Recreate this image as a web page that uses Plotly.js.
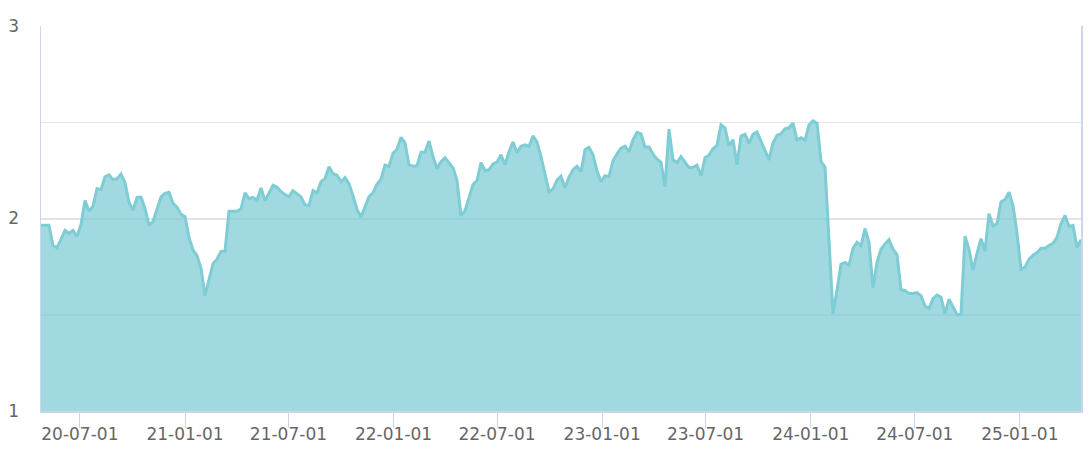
<!DOCTYPE html>
<html>
<head>
<meta charset="utf-8">
<script src="https://cdn.plot.ly/plotly-3.0.1.min.js"></script>
<style>
html,body{margin:0;padding:0;background:#fff;}
#chart{width:1089px;height:451px;}
</style>
</head>
<body>
<div id="chart"></div>
<script>
const dates = [
'2020-04-24','2020-05-01','2020-05-08','2020-05-15','2020-05-22','2020-05-29','2020-06-05','2020-06-12','2020-06-19','2020-06-26',
'2020-07-03','2020-07-10','2020-07-17','2020-07-24','2020-07-31','2020-08-07','2020-08-14','2020-08-21','2020-08-28',
'2020-09-04','2020-09-11','2020-09-18','2020-09-25','2020-10-02','2020-10-09','2020-10-16','2020-10-23','2020-10-30',
'2020-11-06','2020-11-13','2020-11-20','2020-11-27','2020-12-04','2020-12-11','2020-12-18','2020-12-25',
'2021-01-01','2021-01-08','2021-01-15','2021-01-22','2021-01-29','2021-02-05','2021-02-12','2021-02-19','2021-02-26',
'2021-03-05','2021-03-12','2021-03-19','2021-03-26','2021-04-02','2021-04-09','2021-04-16','2021-04-23','2021-04-30',
'2021-05-07','2021-05-14','2021-05-21','2021-05-28','2021-06-04','2021-06-11','2021-06-18','2021-06-25',
'2021-07-02','2021-07-09','2021-07-16','2021-07-23','2021-07-30','2021-08-06','2021-08-13','2021-08-20','2021-08-27',
'2021-09-03','2021-09-10','2021-09-17','2021-09-24','2021-10-01','2021-10-08','2021-10-15','2021-10-22','2021-10-29',
'2021-11-05','2021-11-12','2021-11-19','2021-11-26','2021-12-03','2021-12-10','2021-12-17','2021-12-24','2021-12-31',
'2022-01-07','2022-01-14','2022-01-21','2022-01-28','2022-02-04','2022-02-11','2022-02-18','2022-02-25',
'2022-03-04','2022-03-11','2022-03-18','2022-03-25','2022-04-01','2022-04-08','2022-04-15','2022-04-22','2022-04-29',
'2022-05-06','2022-05-13','2022-05-20','2022-05-27','2022-06-03','2022-06-10','2022-06-17','2022-06-24',
'2022-07-01','2022-07-08','2022-07-15','2022-07-22','2022-07-29','2022-08-05','2022-08-12','2022-08-19','2022-08-26',
'2022-09-02','2022-09-09','2022-09-16','2022-09-23','2022-09-30','2022-10-07','2022-10-14','2022-10-21','2022-10-28',
'2022-11-04','2022-11-11','2022-11-18','2022-11-25','2022-12-02','2022-12-09','2022-12-16','2022-12-23','2022-12-30',
'2023-01-06','2023-01-13','2023-01-20','2023-01-27','2023-02-03','2023-02-10','2023-02-17','2023-02-24',
'2023-03-03','2023-03-10','2023-03-17','2023-03-24','2023-03-31','2023-04-07','2023-04-14','2023-04-21','2023-04-28',
'2023-05-05','2023-05-12','2023-05-19','2023-05-26','2023-06-02','2023-06-09','2023-06-16','2023-06-23','2023-06-30',
'2023-07-07','2023-07-14','2023-07-21','2023-07-28','2023-08-04','2023-08-11','2023-08-18','2023-08-25',
'2023-09-01','2023-09-08','2023-09-15','2023-09-22','2023-09-29','2023-10-06','2023-10-13','2023-10-20','2023-10-27',
'2023-11-03','2023-11-10','2023-11-17','2023-11-24','2023-12-01','2023-12-08','2023-12-15','2023-12-22','2023-12-29',
'2024-01-05','2024-01-12','2024-01-19','2024-01-26','2024-02-02','2024-02-09','2024-02-16','2024-02-23',
'2024-03-01','2024-03-08','2024-03-15','2024-03-22','2024-03-29','2024-04-05','2024-04-12','2024-04-19','2024-04-26',
'2024-05-03','2024-05-10','2024-05-17','2024-05-24','2024-05-31','2024-06-07','2024-06-14','2024-06-21','2024-06-28',
'2024-07-05','2024-07-12','2024-07-19','2024-07-26','2024-08-02','2024-08-09','2024-08-16','2024-08-23','2024-08-30',
'2024-09-06','2024-09-13','2024-09-20','2024-09-27','2024-10-04','2024-10-11','2024-10-18','2024-10-25',
'2024-11-01','2024-11-08','2024-11-15','2024-11-22','2024-11-29','2024-12-06','2024-12-13','2024-12-20','2024-12-27',
'2025-01-03','2025-01-10','2025-01-17','2025-01-24','2025-01-31','2025-02-07','2025-02-14','2025-02-21','2025-02-28',
'2025-03-07','2025-03-14','2025-03-21','2025-03-28','2025-04-04','2025-04-11','2025-04-18'
];

const values = [
1.965,1.965,1.965,1.86,1.848,1.892,1.938,1.922,1.938,1.907,
1.969,2.093,2.038,2.064,2.155,2.150,2.217,2.227,2.202,2.207,
2.231,2.186,2.085,2.043,2.109,2.111,2.052,1.964,1.984,2.048,
2.112,2.131,2.136,2.079,2.059,2.022,2.009,1.902,1.836,1.808,
1.741,1.600,1.685,1.765,1.789,1.829,1.831,2.038,2.038,2.038,
2.050,2.133,2.103,2.110,2.095,2.159,2.093,2.134,2.173,2.162,
2.140,2.124,2.114,2.145,2.129,2.112,2.072,2.067,2.145,2.132,
2.191,2.207,2.269,2.233,2.225,2.191,2.212,2.181,2.119,2.047,
2.007,2.062,2.114,2.134,2.178,2.205,2.277,2.271,2.339,2.360,
2.422,2.393,2.279,2.272,2.274,2.344,2.344,2.403,2.321,2.261,
2.295,2.316,2.287,2.264,2.197,2.015,2.041,2.109,2.176,2.197,
2.290,2.248,2.253,2.284,2.293,2.331,2.279,2.347,2.398,2.341,
2.375,2.383,2.375,2.429,2.398,2.321,2.233,2.140,2.153,2.199,
2.220,2.160,2.215,2.253,2.272,2.243,2.357,2.370,2.331,2.248,
2.191,2.222,2.217,2.300,2.336,2.365,2.376,2.347,2.409,2.447,
2.439,2.372,2.372,2.334,2.308,2.292,2.166,2.464,2.305,2.290,
2.321,2.295,2.264,2.266,2.277,2.222,2.316,2.329,2.362,2.380,
2.486,2.471,2.378,2.409,2.280,2.429,2.438,2.390,2.437,2.450,
2.401,2.352,2.305,2.393,2.431,2.440,2.466,2.471,2.496,2.408,
2.419,2.406,2.486,2.507,2.495,2.296,2.267,1.887,1.503,1.628,
1.762,1.772,1.757,1.845,1.877,1.858,1.948,1.876,1.640,1.772,
1.840,1.868,1.890,1.840,1.812,1.630,1.626,1.610,1.610,1.615,
1.599,1.545,1.532,1.584,1.602,1.591,1.505,1.581,1.537,1.501,
1.503,1.908,1.840,1.731,1.819,1.895,1.831,2.025,1.962,1.972,
2.086,2.098,2.137,2.067,1.924,1.736,1.747,1.788,1.809,1.822,
1.845,1.845,1.860,1.871,1.902,1.974,2.016,1.959,1.964,1.850,
1.890
];

const xTickVals = ['2020-07-01','2021-01-01','2021-07-01','2022-01-01','2022-07-01','2023-01-01','2023-07-01','2024-01-01','2024-07-01','2025-01-01'];
const xTickText = ['20-07-01','21-01-01','21-07-01','22-01-01','22-07-01','23-01-01','23-07-01','24-01-01','24-07-01','25-01-01'];
const yTickVals = [1,2,3];
const yTickText = ['1','2','3'];

const trace = {
  x: dates,
  y: values,
  type: 'scatter',
  mode: 'lines',
  fill: 'tozeroy',
  fillcolor: 'rgba(121,201,212,0.70)',
  line: {color: 'rgb(127,205,212)', width: 3},
  hoverinfo: 'x+y'
};

const tickFont = {family: 'DejaVu Sans, sans-serif', size: 17, color: '#666666'};

const layout = {
  width: 1089,
  height: 451,
  margin: {l: 41, r: 8, t: 26, b: 40},
  paper_bgcolor: '#ffffff',
  plot_bgcolor: '#ffffff',
  showlegend: false,
  font: tickFont,
  xaxis: {
    type: 'date',
    range: [dates[0], dates[dates.length - 1]],
    tickvals: xTickVals,
    ticktext: xTickText,
    ticks: 'outside',
    ticklen: 15,
    tickwidth: 1,
    tickcolor: '#ccd6eb',
    ticklabelstandoff: -8,
    showgrid: false,
    showline: true,
    linecolor: '#ccd6eb',
    linewidth: 2,
    zeroline: false,
    tickfont: tickFont
  },
  yaxis: {
    range: [1, 3],
    tickvals: yTickVals,
    ticktext: yTickText,
    ticks: '',
    ticklabelstandoff: 17,
    showgrid: true,
    gridcolor: '#e3e3e3',
    gridwidth: 2,
    minor: {dtick: 0.5, showgrid: true, gridcolor: '#e6e6e6', gridwidth: 1.5},
    showline: true,
    mirror: true,
    linecolor: '#ccd6eb',
    linewidth: 1.5,
    zeroline: false,
    tickfont: tickFont
  }
};

Plotly.newPlot('chart', [trace], layout, {displayModeBar: false, staticPlot: true});
</script>
</body>
</html>
